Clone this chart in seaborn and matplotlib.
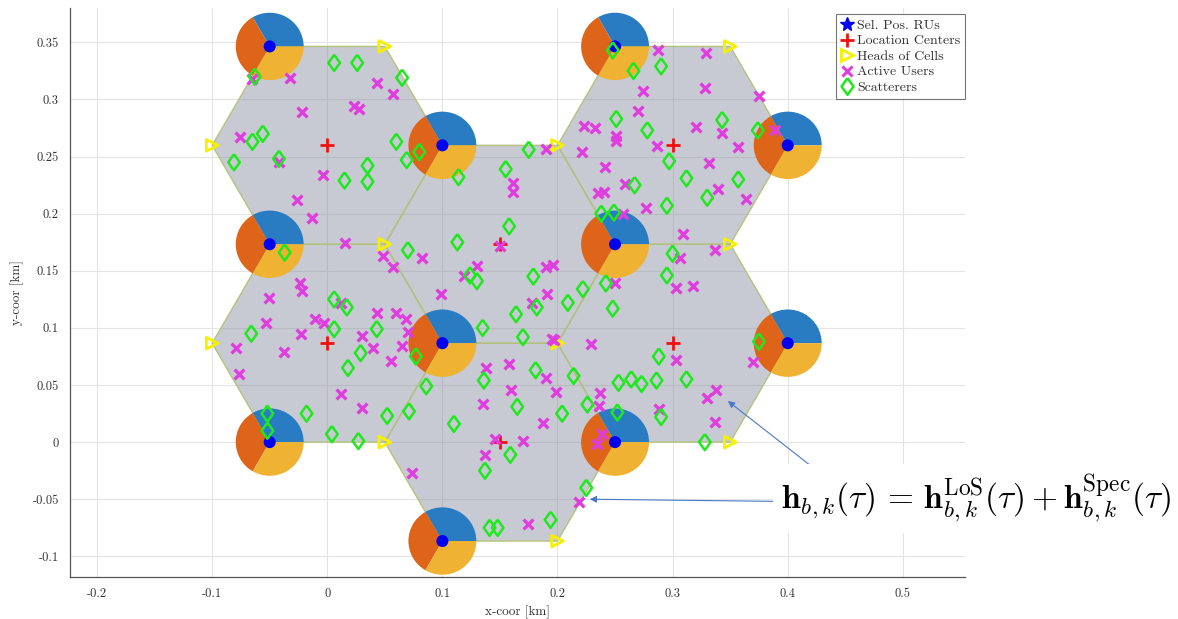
import numpy as np
import matplotlib
matplotlib.use("Agg")
import matplotlib.pyplot as plt
import seaborn as sns
from matplotlib.patches import Polygon, Wedge
from matplotlib.lines import Line2D

# ---- layout data (km) ----
cell_x = [0.0, 0.15, 0.3, 0.0, 0.3, 0.15]
cell_y = [0.2598, 0.1732, 0.2598, 0.0866, 0.0866, 0.0]
cell_radius = 0.1

ru_x = [-0.05, 0.1, -0.05, 0.1, -0.05, 0.1, 0.25, 0.4, 0.25, 0.4, 0.25]
ru_y = [0.3464, 0.2598, 0.1732, 0.0866, 0.0, -0.0866, 0.3464, 0.2598, 0.1732, 0.0866, 0.0]

head_x = [0.05, -0.1, 0.05, -0.1, 0.05, 0.2, 0.2, 0.2, 0.35, 0.35, 0.35]
head_y = [0.3464, 0.2598, 0.1732, 0.0866, 0.0, 0.2598, 0.0866, -0.0866, 0.3464, 0.1732, 0.0]

sector_angles = [0, 120, 240, 360]

user_x = [-0.065, -0.032, -0.022, 0.023, 0.028, 0.043, 0.057, -0.076, -0.042, -0.004,
          -0.026, -0.013, 0.015, 0.048, 0.057, 0.082, 0.099, -0.024, -0.022, -0.051,
          -0.053, -0.079, -0.077, -0.038, -0.023, -0.011, -0.003, 0.012, 0.043, 0.060,
          0.068, 0.070, 0.030, 0.040, 0.065, 0.055, 0.012, 0.030,
          0.190, 0.161, 0.161, 0.221, 0.223, 0.233, 0.241, 0.235, 0.240, 0.259,
          0.150, 0.130, 0.119, 0.190, 0.196, 0.178, 0.191, 0.138, 0.158, 0.195,
          0.197, 0.229, 0.250,
          0.190, 0.199, 0.160, 0.135, 0.237, 0.236, 0.187, 0.146, 0.170, 0.137,
          0.239, 0.234, 0.219, 0.174, 0.074,
          0.287, 0.329, 0.274, 0.328, 0.375, 0.270, 0.251, 0.251, 0.286, 0.320,
          0.343, 0.357, 0.389, 0.332, 0.277, 0.339, 0.364, 0.309, 0.257,
          0.337, 0.306, 0.303, 0.318, 0.303, 0.370, 0.338, 0.330, 0.288, 0.337]
user_y = [0.318, 0.319, 0.289, 0.294, 0.292, 0.314, 0.305, 0.267, 0.245, 0.234,
          0.212, 0.196, 0.174, 0.163, 0.153, 0.161, 0.130, 0.139, 0.132, 0.126,
          0.104, 0.082, 0.060, 0.079, 0.095, 0.108, 0.104, 0.122, 0.113, 0.113,
          0.108, 0.096, 0.093, 0.082, 0.084, 0.071, 0.042, 0.030,
          0.257, 0.227, 0.219, 0.254, 0.277, 0.275, 0.241, 0.218, 0.219, 0.226,
          0.172, 0.154, 0.145, 0.153, 0.155, 0.122, 0.130, 0.065, 0.068, 0.090,
          0.089, 0.086, 0.139,
          0.056, 0.044, 0.046, 0.033, 0.043, 0.032, 0.017, 0.003, 0.001, -0.011,
          0.007, -0.002, -0.052, -0.072, -0.027,
          0.343, 0.341, 0.307, 0.310, 0.303, 0.290, 0.268, 0.264, 0.259, 0.276,
          0.271, 0.258, 0.273, 0.244, 0.205, 0.222, 0.213, 0.182, 0.200,
          0.168, 0.161, 0.135, 0.137, 0.072, 0.070, 0.046, 0.039, 0.029, 0.018]

scat_x = [-0.063, 0.006, 0.026, 0.065, -0.065, -0.056, -0.081, -0.042, 0.015, 0.035,
          0.035, 0.060, 0.069, 0.080, -0.037, 0.070,
          0.006, 0.017, -0.066, 0.006, 0.043, 0.029, 0.018, 0.077, 0.086, 0.071,
          0.052, -0.018, 0.004, 0.027, -0.052, -0.052,
          0.114, 0.175, 0.155, 0.251, 0.158, 0.113, 0.124, 0.130, 0.179, 0.164,
          0.182, 0.209, 0.222, 0.242, 0.248, 0.238, 0.249, 0.135, 0.170,
          0.136, 0.181, 0.214, 0.165, 0.204, 0.226, 0.253, 0.264, 0.252, 0.110,
          0.159, 0.137, 0.225, 0.194, 0.141, 0.148,
          0.248, 0.266, 0.290, 0.278, 0.343, 0.374, 0.297, 0.312, 0.267, 0.357,
          0.330, 0.295,
          0.300, 0.295, 0.375, 0.288, 0.312, 0.286, 0.273, 0.290, 0.328]
scat_y = [0.320, 0.332, 0.332, 0.319, 0.263, 0.270, 0.245, 0.248, 0.229, 0.242,
          0.228, 0.263, 0.247, 0.254, 0.166, 0.168,
          0.125, 0.118, 0.095, 0.099, 0.099, 0.078, 0.065, 0.075, 0.049, 0.027,
          0.023, 0.025, 0.007, 0.001, 0.025, 0.010,
          0.232, 0.256, 0.239, 0.283, 0.189, 0.175, 0.146, 0.141, 0.145, 0.112,
          0.118, 0.122, 0.134, 0.139, 0.117, 0.200, 0.201, 0.100, 0.092,
          0.054, 0.063, 0.058, 0.031, 0.025, 0.033, 0.052, 0.055, 0.026, 0.016,
          -0.011, -0.025, -0.040, -0.068, -0.075, -0.075,
          0.343, 0.325, 0.329, 0.273, 0.282, 0.273, 0.246, 0.231, 0.225, 0.230,
          0.214, 0.207,
          0.165, 0.146, 0.088, 0.075, 0.055, 0.054, 0.051, 0.022, 0.000]

x_ticks = [-0.2, -0.1, 0.0, 0.1, 0.2, 0.3, 0.4, 0.5]
x_tick_labels = ["-0.2", "-0.1", "0", "0.1", "0.2", "0.3", "0.4", "0.5"]
y_ticks = [-0.1, -0.05, 0.0, 0.05, 0.1, 0.15, 0.2, 0.25, 0.3, 0.35]
y_tick_labels = ["-0.1", "-0.05", "0", "0.05", "0.1", "0.15", "0.2", "0.25", "0.3", "0.35"]

legend_labels = ["Sel. Pos. RUs", "Location Centers", "Heads of Cells",
                 "Active Users", "Scatterers"]

# ---- styling ----
sns.set_theme(style="white")
plt.rcParams["font.family"] = ["cmr10", "DejaVu Serif"]
plt.rcParams["mathtext.fontset"] = "cm"
plt.rcParams["axes.unicode_minus"] = False
plt.rcParams["axes.formatter.use_mathtext"] = True

sector_colors = ["#2a7cc2", "#dd6418", "#efb232"]
user_color = "#e03de0"
scat_color = "#1fe81f"

# diamond slightly narrower than it is tall
diamond = [(0, 1), (0.72, 0), (0, -1), (-0.72, 0), (0, 1)]

fig = plt.figure(figsize=(11.78, 6.19), dpi=100)
ax = fig.add_axes([0.0594, 0.068, 0.7598, 0.919])

# hexagonal cells
ang = np.deg2rad(np.arange(0, 360, 60))
for cx, cy in zip(cell_x, cell_y):
    verts = np.column_stack([cx + cell_radius * np.cos(ang), cy + cell_radius * np.sin(ang)])
    ax.add_patch(Polygon(verts, closed=True, facecolor=(0.50, 0.52, 0.60, 0.43),
                         edgecolor="#b4c37c", linewidth=1.0, zorder=1))

# three-sector radio units
pie_r = 0.0295
for rx, ry in zip(ru_x, ru_y):
    for k in range(3):
        ax.add_patch(Wedge((rx, ry), pie_r, sector_angles[k], sector_angles[k + 1],
                           facecolor=sector_colors[k], edgecolor="none", zorder=3))

sns.scatterplot(x=ru_x, y=ru_y, marker="o", color="#0000f0", s=75, edgecolor="none",
                ax=ax, zorder=4, legend=False)
sns.scatterplot(x=cell_x, y=cell_y, marker="+", color="#f01010", s=110, linewidth=2.0,
                ax=ax, zorder=6, legend=False)
sns.scatterplot(x=head_x, y=head_y, marker=">", facecolor="none", edgecolor="#f5f000",
                s=70, linewidth=2.0, ax=ax, zorder=5, legend=False)
sns.scatterplot(x=user_x, y=user_y, marker="x", color=user_color, s=50, linewidth=2.4,
                ax=ax, zorder=6, legend=False)
sns.scatterplot(x=scat_x, y=scat_y, marker=diamond, facecolor="none", edgecolor=scat_color,
                s=135, linewidth=1.8, ax=ax, zorder=7, legend=False)

# axes
ax.set_xlim(-0.2235, 0.554)
ax.set_ylim(-0.118, 0.38)
ax.set_xticks(x_ticks)
ax.set_xticklabels(x_tick_labels)
ax.set_yticks(y_ticks)
ax.set_yticklabels(y_tick_labels)
ax.grid(True, color="#e4e4e4", linewidth=0.8, zorder=0)
ax.set_axisbelow(True)
for side in ["top", "right"]:
    ax.spines[side].set_visible(False)
for side in ["left", "bottom"]:
    ax.spines[side].set_color("#555555")
    ax.spines[side].set_linewidth(0.9)
ax.tick_params(direction="in", length=5, width=0.8, color="#555555",
               labelcolor="#333333", labelsize=9, pad=8)
ax.set_xlabel("x-coor [km]", fontsize=9.5, color="#333333", labelpad=4)
ax.set_ylabel("y-coor [km]", fontsize=9.5, color="#333333", labelpad=6)

# legend
handles = [
    Line2D([], [], ls="none", marker="*", color="#0000f0", markersize=10),
    Line2D([], [], ls="none", marker="+", color="#f01010", markersize=10, markeredgewidth=2),
    Line2D([], [], ls="none", marker=">", color="#f5f000", markerfacecolor="none",
           markersize=9, markeredgewidth=2),
    Line2D([], [], ls="none", marker="x", color=user_color, markersize=7, markeredgewidth=2.2),
    Line2D([], [], ls="none", marker=diamond, color=scat_color, markerfacecolor="none",
           markersize=12, markeredgewidth=1.8),
]
leg = ax.legend(handles, legend_labels, loc="upper right", bbox_to_anchor=(1.0, 0.989),
                fontsize=10, frameon=True, fancybox=False, edgecolor="#555555",
                handlelength=0.9, handletextpad=0.25, borderpad=0.35, labelspacing=0.2,
                borderaxespad=0.0)
leg.get_frame().set_linewidth(0.8)
for t in leg.get_texts():
    t.set_color("#333333")

# channel model annotation
ax.annotate("", xy=(0.348, 0.036), xytext=(0.428, -0.027), xycoords="data",
            textcoords="data", annotation_clip=False,
            arrowprops=dict(arrowstyle="-|>", color="#4a78c8", lw=0.8,
                            mutation_scale=10, shrinkA=0, shrinkB=0), zorder=9)
ax.annotate("", xy=(0.228, -0.050), xytext=(0.402, -0.052), xycoords="data",
            textcoords="data", annotation_clip=False,
            arrowprops=dict(arrowstyle="-|>", color="#4a78c8", lw=0.8,
                            mutation_scale=10, shrinkA=0, shrinkB=0), zorder=9)
fig.text(0.663, 0.195,
         r"$\mathbf{h}_{b,k}(\tau)\,=\,\mathbf{h}_{b,k}^{\mathrm{LoS}}(\tau)+"
         r"\mathbf{h}_{b,k}^{\mathrm{Spec}}(\tau)$",
         fontsize=24, ha="left", va="center", color="black", zorder=10,
         bbox=dict(facecolor="white", edgecolor="none", pad=6))

fig.savefig("out.png", dpi=100)
